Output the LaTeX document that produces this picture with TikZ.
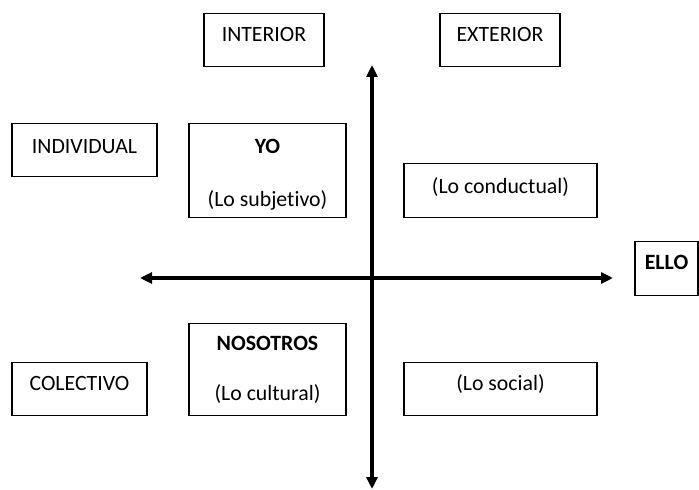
\documentclass[tikz,border=0pt]{standalone}
\usepackage{fontspec}
\setmainfont{Carlito}[Ligatures=NoCommon]
\usetikzlibrary{arrows.meta}

\tikzset{
  box/.style={draw, line width=0.65pt, inner sep=0pt, anchor=north, align=center,
    font=\fontsize{10.9}{13}\selectfont},
  axis/.style={line width=2pt, {Triangle[length=6pt,width=5.5pt]}-{Triangle[length=6pt,width=5.5pt]}}
}

\begin{document}
\begin{tikzpicture}[x=0.5pt,y=-0.5pt]
            \useasboundingbox (0,0) rectangle (699,490);
            % top row
            \node[box, minimum width=60pt, text height=13.85pt, text depth=12.65pt] (interior) at (264,13) {INTERIOR};
            \node[box, minimum width=60pt, text height=13.85pt, text depth=12.65pt] (exterior) at (500,13) {EXTERIOR};
            % upper quadrants
            \node[box, minimum width=72.5pt, text height=15pt, text depth=11.5pt] (individual) at (84.5,123) {INDIVIDUAL};
            \node[box, minimum width=78.5pt, text height=41.5pt, text depth=5.5pt] (yo) at (267.5,123) {\textbf{YO}\\[13.5pt](Lo subjetivo)};
            \node[box, minimum width=96.5pt, text height=15pt, text depth=12pt] (conductual) at (500.5,163) {(Lo conductual)};
            \node[box, minimum width=31.5pt, text height=14pt, text depth=13pt] (ello) at (666.5,241) {\textbf{ELLO}};
            % lower quadrants
            \node[box, minimum width=78.5pt, text height=38.5pt, text depth=7.5pt] (nosotros) at (267.5,323) {\textbf{NOSOTROS}\\[12pt](Lo cultural)};
            \node[box, minimum width=67.5pt, text height=14pt, text depth=12.5pt] (colectivo) at (79.5,362) {COLECTIVO};
            \node[box, minimum width=96.5pt, text height=14pt, text depth=12.5pt] (social) at (500.5,362) {(Lo social)};
            % axes
            \coordinate (ytop) at (372,65);
            \coordinate (ybot) at (372,489);
            \coordinate (xleft) at (140,278);
            \coordinate (xright) at (613,278);
            \draw[axis] (ybot) -- (ytop);
            \draw[axis] (xleft) -- (xright);
\end{tikzpicture}
\end{document}
